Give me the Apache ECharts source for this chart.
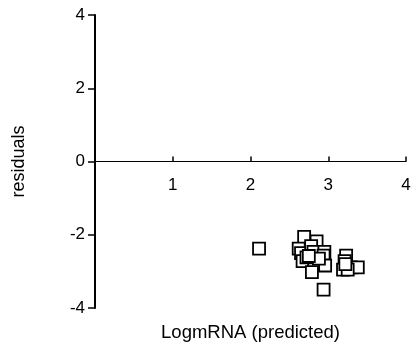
<!DOCTYPE html>
<html>
<head>
<meta charset="utf-8">
<script src="https://cdn.jsdelivr.net/npm/echarts@6/dist/echarts.min.js"></script>
<style>
  html, body { margin: 0; padding: 0; background: #fff; }
  #chart { width: 413px; height: 350px; }
</style>
</head>
<body>
<div id="chart"></div>
<script>
// Predicted log mRNA against residuals
const predicted = [2.11, 2.94, 2.69, 2.85, 2.62, 2.65, 2.78, 2.81, 2.95, 2.94, 2.67, 2.82, 2.96, 2.79, 2.72, 2.88, 2.75,
                   3.23, 3.21, 3.29, 3.38, 3.19, 3.25, 3.22];
const residuals = [-2.38, -3.50, -2.06, -2.18, -2.38, -2.50, -2.31, -2.47, -2.47, -2.57, -2.72, -2.77, -2.84, -3.02, -2.62, -2.65, -2.58,
                   -2.57, -2.72, -2.89, -2.89, -2.95, -2.95, -2.80];
const xTicks = [0, 1, 2, 3, 4];
const yTicks = [-4, -2, 0, 2, 4];

const points = predicted.map((x, i) => [x, residuals[i]]);
const font = 'Liberation Sans, Arial, sans-serif';

const gridTop = 15, gridBottom = 42, height = 350;
// x axis sits on the y = 0 line, which is half way up the plot area
const xAxisShift = -(height - gridTop - gridBottom) / 2;

const chart = echarts.init(document.getElementById('chart'), null, { renderer: 'canvas' });
chart.setOption({
  animation: false,
  backgroundColor: '#fff',
  grid: { left: 95, right: 7, top: gridTop, bottom: gridBottom, containLabel: false, outerBoundsMode: 'none' },
  xAxis: {
    type: 'value',
    min: xTicks[0], max: xTicks[xTicks.length - 1], interval: 1,
    offset: xAxisShift,
    name: 'LogmRNA (predicted)',
    nameLocation: 'middle',
    nameGap: 162,
    nameTextStyle: { fontFamily: font, fontSize: 18.5, color: '#000' },
    axisLine: { onZero: false, lineStyle: { color: '#000', width: 1 } },
    axisTick: { show: true, inside: true, length: 5, lineStyle: { color: '#000', width: 1.5 } },
    axisLabel: {
      margin: 15, fontFamily: font, fontSize: 17, color: '#000',
      formatter: v => (v === 0 ? '' : String(v))
    },
    splitLine: { show: false }
  },
  yAxis: {
    type: 'value',
    min: yTicks[0], max: yTicks[yTicks.length - 1], interval: 2,
    name: 'residuals',
    nameLocation: 'middle',
    nameGap: 67,
    nameTextStyle: { fontFamily: font, fontSize: 18, color: '#000' },
    axisLine: { onZero: false, lineStyle: { color: '#000', width: 2 } },
    axisTick: { show: true, length: 7, lineStyle: { color: '#000', width: 1.5 } },
    axisLabel: { margin: 10, fontFamily: font, fontSize: 17, color: '#000' },
    splitLine: { show: false }
  },
  series: [{
    type: 'scatter',
    data: points,
    symbol: 'rect',
    symbolSize: 12,
    itemStyle: { color: '#fff', borderColor: '#000', borderWidth: 1.8, opacity: 1 }
  }]
});
</script>
</body>
</html>
